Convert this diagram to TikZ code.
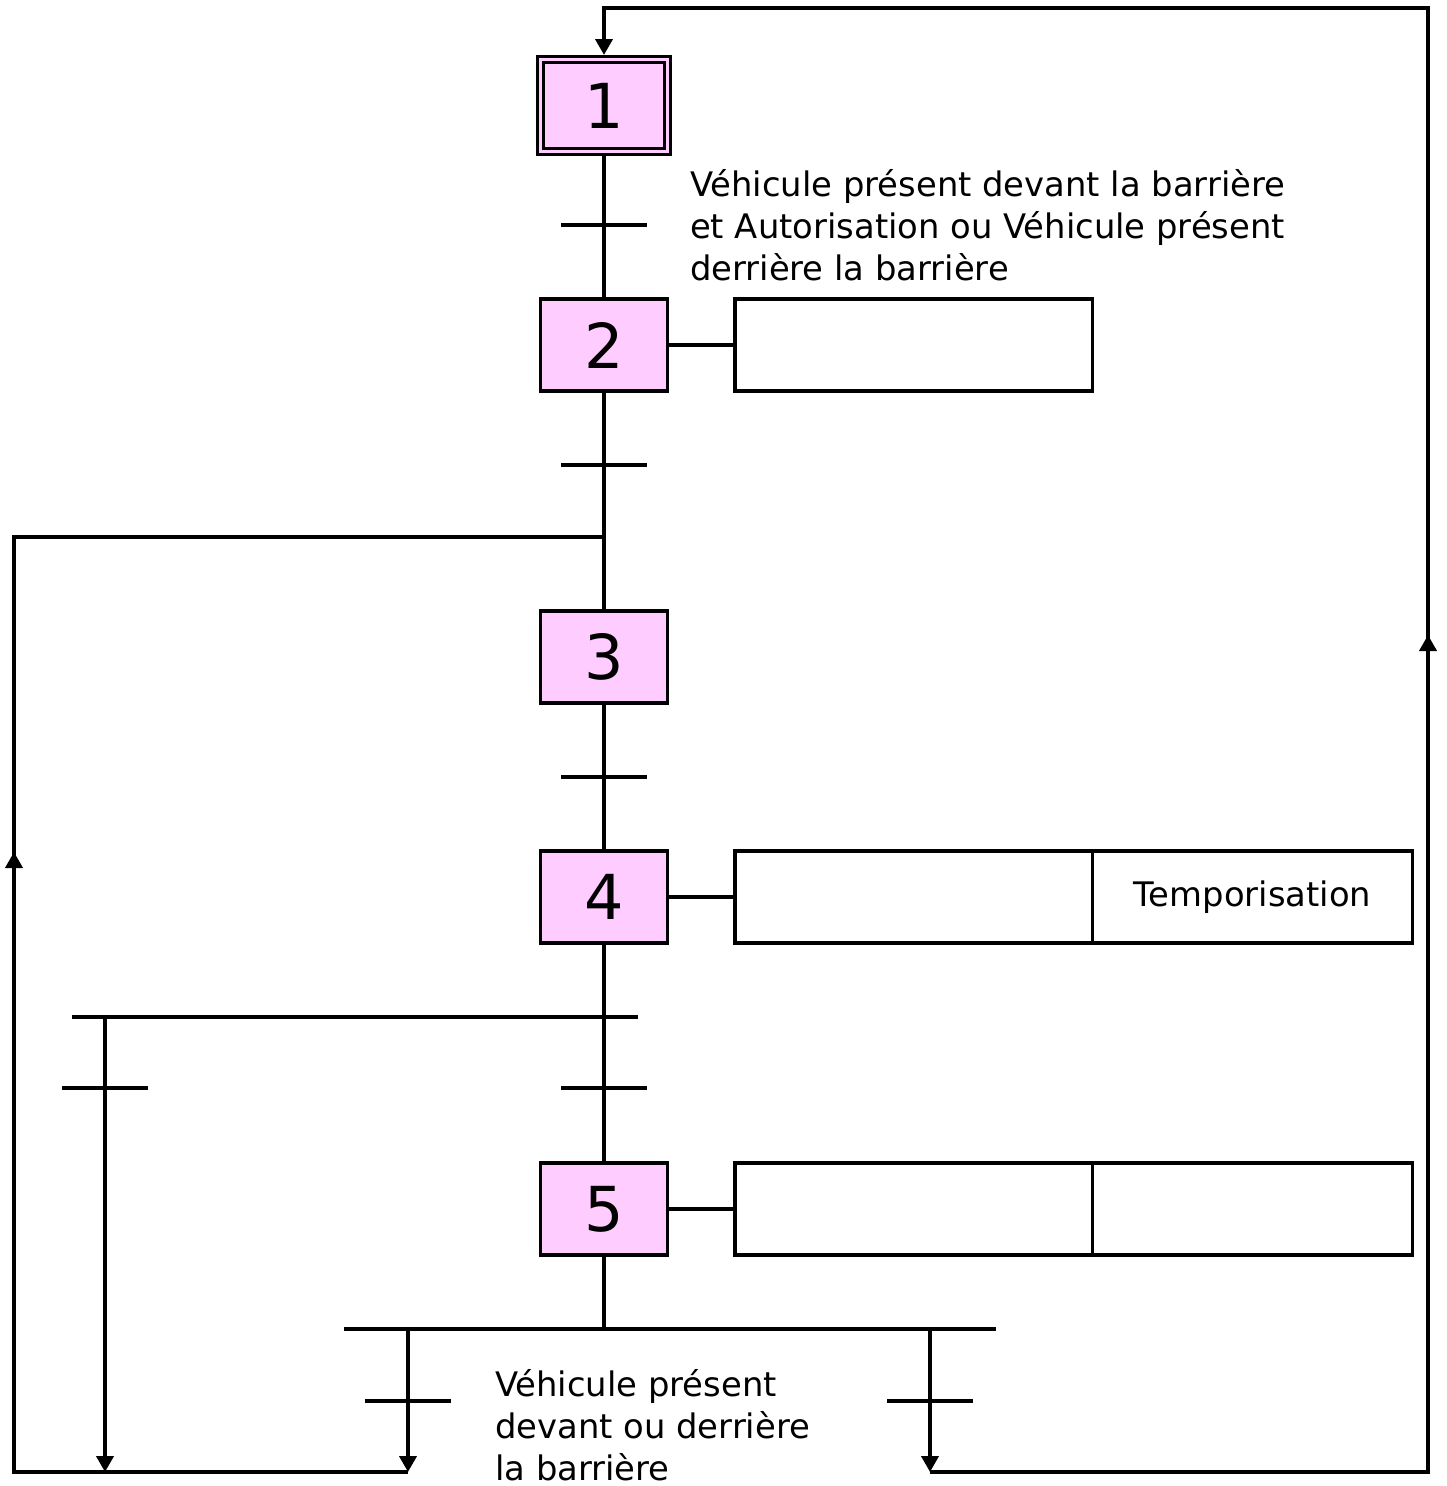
\documentclass[tikz,border=0pt]{standalone}
\usepackage{fontspec}
\setmainfont{DejaVu Sans}
\usetikzlibrary{arrows.meta,positioning}
\definecolor{steppink}{RGB}{255,204,255}
\tikzset{
  etape/.style={draw, fill=steppink, line width=3.8pt, minimum width=127pt, minimum height=92pt,
    inner sep=0pt, outer sep=0pt, font=\fontsize{62}{62}\selectfont},
  action/.style={draw, line width=3.8pt, minimum height=92pt, inner sep=0pt, outer sep=0pt,
    font=\fontsize{33.8}{42}\selectfont},
  recep/.style={font=\fontsize{33.8}{42}\selectfont, align=left, inner sep=0pt, anchor=west},
  lien/.style={line width=3.8pt},
  fleche/.style={line width=3.8pt, -{Triangle[length=16pt,width=17pt]}},
}

\begin{document}
\begin{tikzpicture}[x=1pt, y=-1pt]
    \useasboundingbox (0,0) rectangle (1446,1486);

    % Etapes
    \node[etape, line width=3pt, double=steppink, double distance=3pt, minimum width=127pt,
      minimum height=92pt, outer sep=4.5pt] (s1) at (604,105.5) {1};
    \node[etape] (s2) at (604,345) {2};
    \node[etape] (s3) at (604,657) {3};
    \node[etape] (s4) at (604,897) {4};
    \node[etape] (s5) at (604,1209) {5};

    % Actions
    \node[action, minimum width=357.5pt, right=67.5pt of s2] (a2) {};
    \node[action, minimum width=357.5pt, right=67.5pt of s4] (a4) {};
    \node[action, minimum width=320pt, right=0pt of a4] (a4t) {Temporisation};
    \node[action, minimum width=357.5pt, right=67.5pt of s5] (a5) {};
    \node[action, minimum width=320pt, right=0pt of a5] (a5b) {};
    \foreach \s/\a in {s2/a2, s4/a4, s5/a5}
        \draw[lien] (\s.east) -- (\a.west);

    % Points de passage
    \coordinate (j3) at (604,537);
    \coordinate (g1) at (14,537);
    \coordinate (g2) at (14,1472);
    \coordinate (gfl) at (14,852);
    \coordinate (d1) at (72,1017);
    \coordinate (d2) at (638,1017);
    \coordinate (b1) at (105,1017);
    \coordinate (b2) at (105,1472);
    \coordinate (e0) at (604,1329);
    \coordinate (e1) at (344,1329);
    \coordinate (e2) at (996,1329);
    \coordinate (c1) at (408,1329);
    \coordinate (c2) at (408,1472);
    \coordinate (r1) at (930,1329);
    \coordinate (r2) at (930,1472);
    \coordinate (r3) at (1428,1472);
    \coordinate (rfl) at (1428,635);
    \coordinate (r4) at (1428,8);

    % Transitions
    \coordinate (t12) at (604,225);
    \coordinate (t23) at (604,465);
    \coordinate (t34) at (604,777);
    \coordinate (t45) at (604,1088);
    \coordinate (t4g) at (105,1088);
    \coordinate (t5g) at (408,1401);
    \coordinate (t5d) at (930,1401);
    \foreach \t in {t12, t23, t34, t45, t4g, t5g, t5d}
        \draw[lien] ([xshift=-43pt]\t) -- ([xshift=43pt]\t);

    % Liaisons verticales
    \draw[lien] (s1.south) -- (s2.north);
    \draw[lien] (s2.south) -- (s3.north);
    \draw[lien] (s3.south) -- (s4.north);
    \draw[lien] (s4.south) -- (s5.north);
    \draw[lien] (s5.south) -- (e0);
    \draw[lien] (d1) -- (d2);
    \draw[lien] (e1) -- (e2);

    % Reprise vers l'etape 3
    \draw[lien] (c2) -- (g2) -- (g1) -- (j3);
    \draw[fleche] (g2) -- (gfl);
    \draw[fleche] (b1) -- (b2);
    \draw[fleche] (c1) -- (c2);

    % Retour vers l'etape 1
    \draw[fleche] (r1) -- (r2);
    \draw[fleche] (r2) -- (r3) -- (r4) -| (s1.north);
    \draw[fleche] (r3) -- (rfl);

    % Receptivites
    \node[recep] (c12) at (690,225) {Véhicule présent devant la barrière\\et Autorisation ou Véhicule présent\\derrière la barrière};
    \node[recep] (c5) at (495,1425) {Véhicule présent\\devant ou derrière\\la barrière};
\end{tikzpicture}
\end{document}
